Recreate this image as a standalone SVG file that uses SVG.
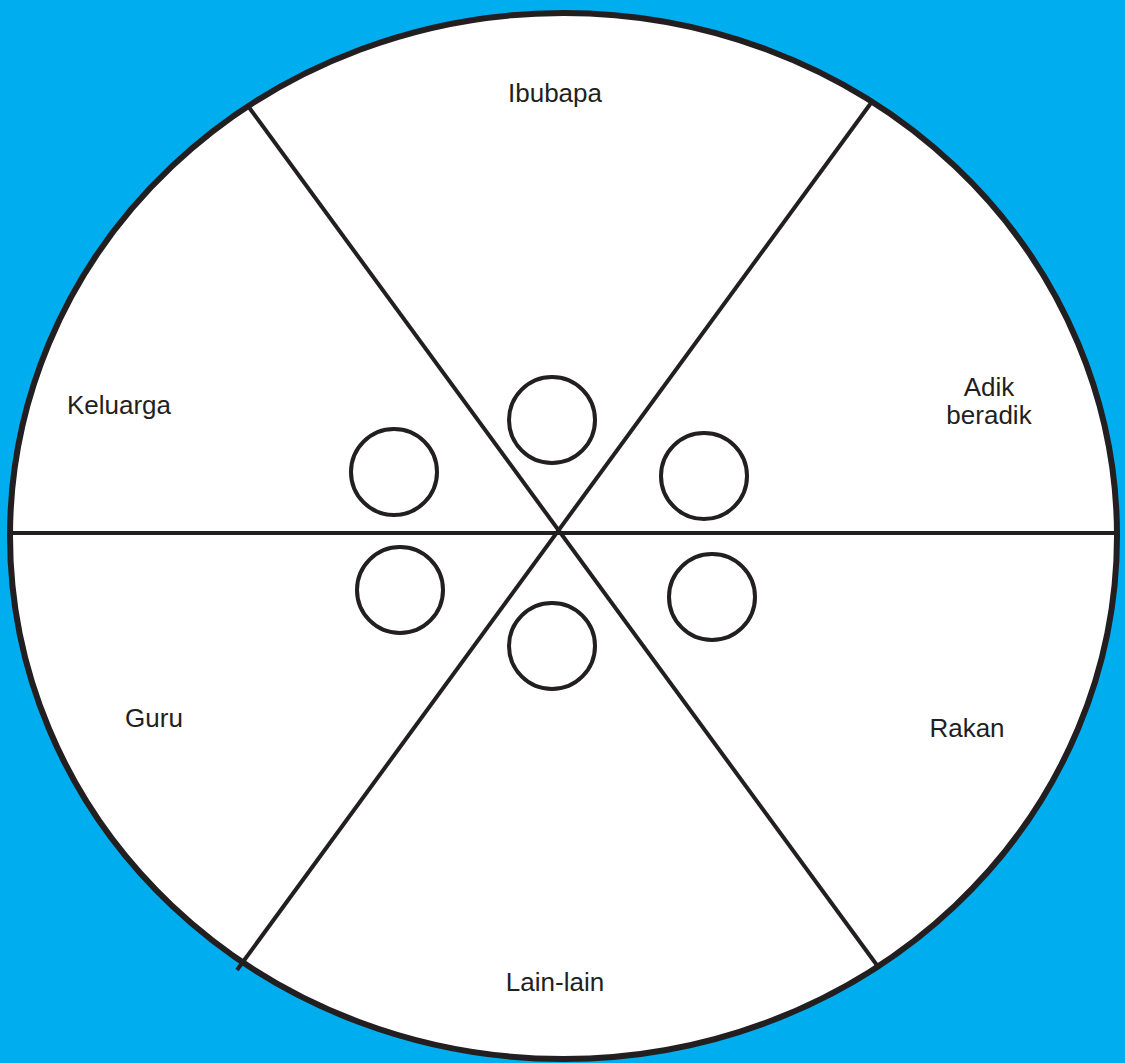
<svg xmlns="http://www.w3.org/2000/svg" width="1125" height="1063" viewBox="0 0 1125 1063">
<style>
.ln{stroke:#231f20;stroke-width:4;fill:none}
.c{stroke:#231f20;stroke-width:4;fill:#fff}
.t{font-family:"Liberation Sans",Arial,Helvetica,sans-serif;font-size:26px;fill:#231f20;text-anchor:middle}
</style>
<rect width="1125" height="1063" fill="#00aeef"/>
<g id="wheel">
<ellipse cx="563.5" cy="536" rx="553.5" ry="523" fill="#fff" stroke="#231f20" stroke-width="6"/>
</g>
<g id="connectors">
<line class="ln" x1="10" y1="533" x2="1117" y2="533"/>
<line class="ln" x1="248" y1="106" x2="879" y2="968"/>
<line class="ln" x1="871" y1="103" x2="237" y2="970"/>
</g>
<g id="circles">
<circle id="c1" class="c" cx="552" cy="420" r="43"/>
<circle id="c2" class="c" cx="394" cy="472" r="43"/>
<circle id="c3" class="c" cx="704" cy="476" r="43"/>
<circle id="c4" class="c" cx="400" cy="590" r="43"/>
<circle id="c5" class="c" cx="712" cy="597" r="43"/>
<circle id="c6" class="c" cx="552" cy="646" r="43"/>
</g>
<g id="ibubapa"><text class="t" x="555" y="102">Ibubapa</text></g>
<g id="keluarga"><text class="t" x="119" y="414">Keluarga</text></g>
<g id="adik"><text class="t" x="989" y="396">Adik</text><text class="t" x="989" y="424">beradik</text></g>
<g id="guru"><text class="t" x="154" y="727">Guru</text></g>
<g id="rakan"><text class="t" x="967" y="737">Rakan</text></g>
<g id="lain"><text class="t" x="555" y="991">Lain-lain</text></g>
</svg>
